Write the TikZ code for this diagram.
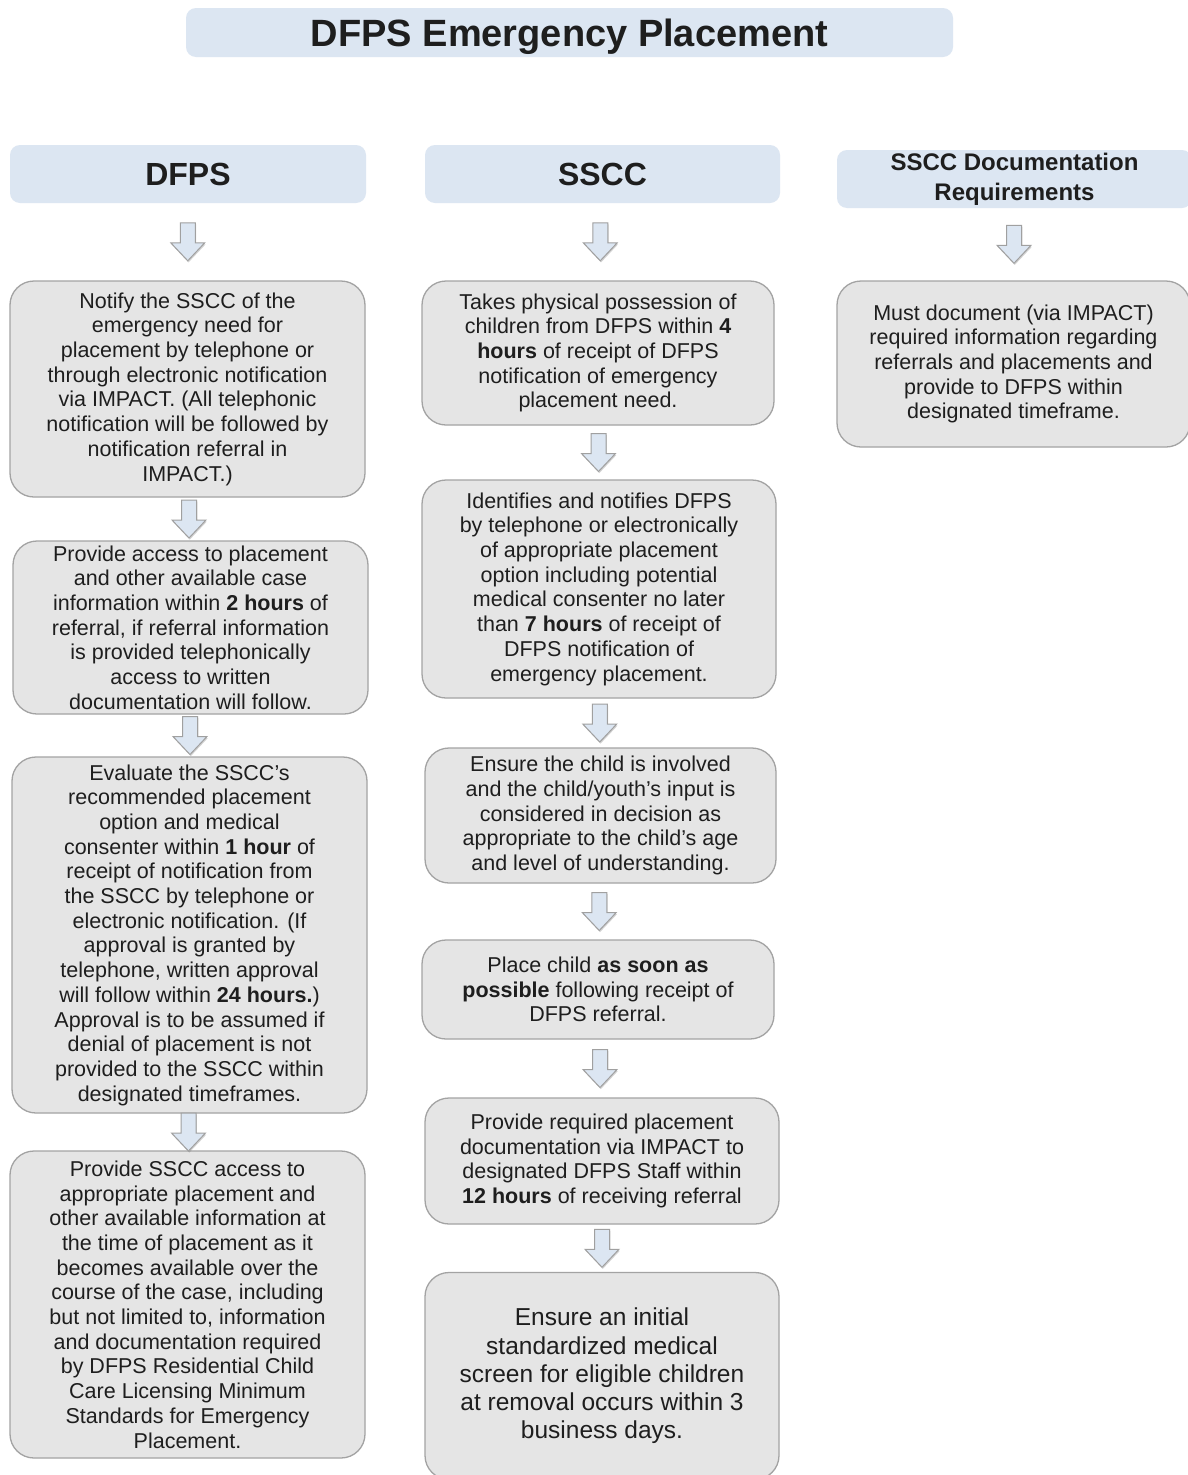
\documentclass[tikz,border=0pt]{standalone}
\usepackage{fontspec}
\setmainfont{Liberation Sans}
\usetikzlibrary{calc,shadows}
\definecolor{hdr}{HTML}{DCE6F2}
\definecolor{boxfill}{HTML}{E5E5E5}
\definecolor{boxline}{HTML}{A3A3A3}
\definecolor{arrline}{HTML}{A0A0A0}
\definecolor{txt}{HTML}{1E1E1E}
\tikzset{
  hdrbox/.style={fill=hdr, rounded corners=10pt, inner sep=0pt, align=center, text=txt},
  stepbox/.style={draw=boxline, line width=1.3pt, fill=boxfill, rounded corners=24pt, inner sep=0pt, align=center, text=txt, font=\fontsize{21.5}{24.7}\selectfont},
  flowarrow/.style={draw=arrline, fill=hdr, line width=1pt, line join=miter,
    drop shadow={shadow xshift=0.8pt, shadow yshift=-1.6pt, opacity=0.35}},
}
\newcommand{\flowarr}[2]{%
  \draw[flowarrow] let \p1=(#1.south), \p2=(#2.north), \n1={(\y1+\y2)/2}, \n2={(\x1+\x2)/2} in
    (\n2-7.5pt,\n1+19pt) -- (\n2+7.5pt,\n1+19pt) -- (\n2+7.5pt,\n1-1pt) -- (\n2+17pt,\n1-1pt)
    -- (\n2,\n1-19pt) -- (\n2-17pt,\n1-1pt) -- (\n2-7.5pt,\n1-1pt) -- cycle;}
\begin{document}
\begin{tikzpicture}[x=1pt,y=-1pt]
\useasboundingbox[fill=white] (0,0) rectangle (1187,1475);

\node[hdrbox, minimum width=767pt, minimum height=49pt, text height=27pt, text depth=0pt, font=\bfseries\fontsize{38}{40}\selectfont] (title) at (569.5,32.5) {DFPS Emergency Placement};

\node[hdrbox, minimum width=356pt, minimum height=58pt, font=\bfseries\fontsize{32}{36}\selectfont] (h1) at (188,174) {DFPS};
\node[hdrbox, minimum width=355pt, minimum height=58pt, font=\bfseries\fontsize{32}{36}\selectfont] (h2) at (602.5,174) {SSCC};
\node[hdrbox, minimum width=355pt, minimum height=58pt, font=\bfseries\fontsize{24}{30}\selectfont] (h3) at (1014.5,179) {SSCC Documentation\\Requirements};

% DFPS column
\node[stepbox, minimum width=355pt, minimum height=216pt] (d1) at (187.5,389) {Notify the SSCC of the\\emergency need for\\placement by telephone or\\through electronic notification\\via IMPACT. (All telephonic\\notification will be followed by\\notification referral in\\IMPACT.)};
\node[stepbox, minimum width=355pt, minimum height=173pt] (d2) at (190.5,627.5) {Provide access to placement\\and other available case\\information within \textbf{2 hours} of\\referral, if referral information\\is provided telephonically\\access to written\\documentation will follow.};
\node[stepbox, minimum width=355pt, minimum height=356pt] (d3) at (189.5,935) {Evaluate the SSCC’s\\recommended placement\\option and medical\\consenter within \textbf{1 hour} of\\receipt of notification from\\the SSCC by telephone or\\electronic notification. (If\\approval is granted by\\telephone, written approval\\will follow within \textbf{24 hours.})\\Approval is to be assumed if\\denial of placement is not\\provided to the SSCC within\\designated timeframes.};
\node[stepbox, minimum width=355pt, minimum height=307pt] (d4) at (187.5,1304.5) {Provide SSCC access to\\appropriate placement and\\other available information at\\the time of placement as it\\becomes available over the\\course of the case, including\\but not limited to, information\\and documentation required\\by DFPS Residential Child\\Care Licensing Minimum\\Standards for Emergency\\Placement.};

% SSCC column
\node[stepbox, minimum width=352pt, minimum height=144pt] (s1) at (598,353) {Takes physical possession of\\children from DFPS within \textbf{4}\\\textbf{hours} of receipt of DFPS\\notification of emergency\\placement need.};
\node[stepbox, minimum width=354pt, minimum height=218pt] (s2) at (599,589) {Identifies and notifies DFPS\\by telephone or electronically\\of appropriate placement\\option including potential\\medical consenter no later\\than \textbf{7 hours} of receipt of\\DFPS notification of\\emergency placement.};
\node[stepbox, minimum width=351pt, minimum height=135pt] (s3) at (600.5,815.5) {Ensure the child is involved\\and the child/youth’s input is\\considered in decision as\\appropriate to the child’s age\\and level of understanding.};
\node[stepbox, minimum width=352pt, minimum height=99pt] (s4) at (598,989.5) {Place child \textbf{as soon as}\\\textbf{possible} following receipt of\\DFPS referral.};
\node[stepbox, minimum width=354pt, minimum height=126pt] (s5) at (602,1161) {Provide required placement\\documentation via IMPACT to\\designated DFPS Staff within\\\textbf{12 hours} of receiving referral};
\node[stepbox, minimum width=354pt, minimum height=207pt, font=\fontsize{24.5}{28.3}\selectfont] (s6) at (602,1376) {Ensure an initial\\standardized medical\\screen for eligible children\\at removal occurs within 3\\business days.};

% Documentation column
\node[stepbox, minimum width=353pt, minimum height=166pt] (r1) at (1013.5,364) {Must document (via IMPACT)\\required information regarding\\referrals and placements and\\provide to DFPS within\\designated timeframe.};

% connectors
\flowarr{h1}{d1}
\flowarr{d1}{d2}
\flowarr{d2}{d3}
\flowarr{d3}{d4}
\flowarr{h2}{s1}
\flowarr{s1}{s2}
\flowarr{s2}{s3}
\flowarr{s3}{s4}
\flowarr{s4}{s5}
\flowarr{s5}{s6}
\flowarr{h3}{r1}
\end{tikzpicture}
\end{document}
